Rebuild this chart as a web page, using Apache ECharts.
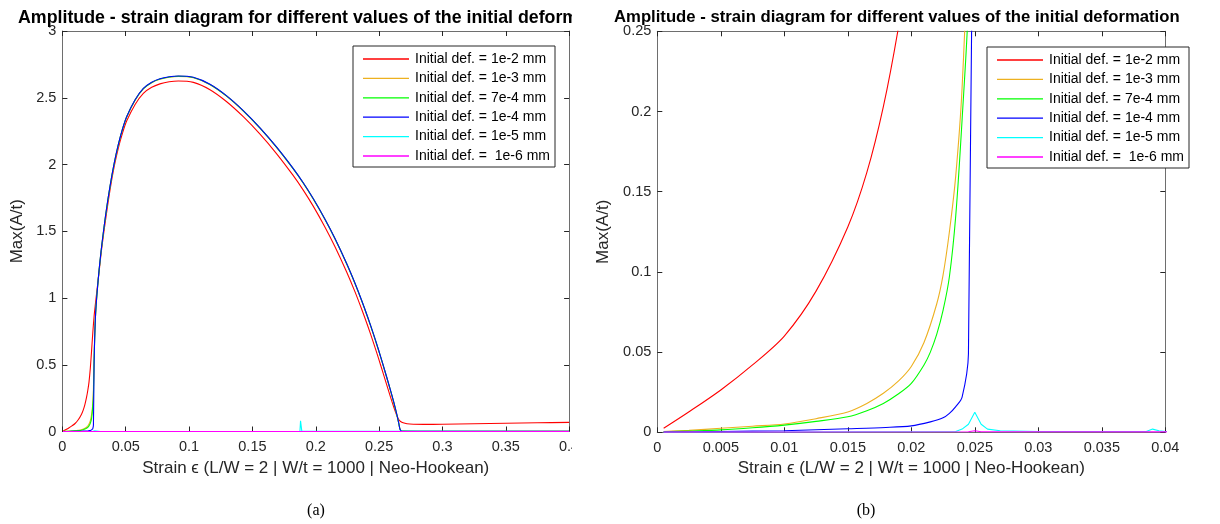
<!DOCTYPE html>
<html><head><meta charset="utf-8">
<script src="https://cdn.jsdelivr.net/npm/echarts/dist/echarts.min.js"></script>
<style>
html,body{margin:0;padding:0;background:#fff;width:1220px;height:524px;overflow:hidden;}
#leftClip{position:absolute;left:0;top:0;width:572px;height:524px;overflow:hidden;}
#left{position:absolute;left:0;top:0;width:620px;height:524px;}
#right{position:absolute;left:590px;top:0;width:630px;height:524px;}
</style></head><body>
<div id="leftClip"><div id="left"></div></div>
<div id="right"></div>
<script>
// ---------------- DATA ----------------
const seriesNames = [
  'Initial def. = 1e-2 mm',
  'Initial def. = 1e-3 mm',
  'Initial def. = 7e-4 mm',
  'Initial def. = 1e-4 mm',
  'Initial def. = 1e-5 mm',
  'Initial def. =  1e-6 mm'
];
const seriesColors = ['#ff0000', '#edb120', '#00ff00', '#0000ff', '#00ffff', '#ff00ff'];

const red_strain = [0.0005,0.0025,0.005,0.0075,0.01,0.0125,0.015,0.0165,0.0178,0.019,0.02,0.021,0.022,0.023,0.024,0.025,0.026,0.0275,0.029,0.031,0.0343,0.0376,0.0409,0.0442,0.0475,0.0508,0.0574,0.0639,0.0705,0.077,0.0843,0.0915,0.1034,0.1165,0.1297,0.143,0.156,0.169,0.182,0.19,0.198,0.207,0.215,0.2244,0.231,0.2365,0.241,0.2454,0.2495,0.253,0.2586,0.2615,0.264,0.2655,0.267,0.269,0.272,0.277,0.285,0.3,0.325,0.35,0.375,0.4];
const red_amp    = [0.0025,0.0128,0.0264,0.042,0.06,0.088,0.128,0.162,0.203,0.253,0.305,0.37,0.47,0.6,0.74,0.86,0.95,1.075,1.2,1.37,1.6,1.81,1.985,2.125,2.237,2.327,2.45,2.533,2.578,2.604,2.62,2.626,2.615,2.56,2.47,2.356,2.227,2.082,1.92,1.81,1.688,1.536,1.388,1.195,1.046,0.91,0.792,0.67,0.55,0.443,0.27,0.185,0.12,0.09,0.075,0.065,0.058,0.054,0.053,0.054,0.058,0.062,0.065,0.068];

const yellow_strain = [0.0005,0.0025,0.005,0.0075,0.01,0.0125,0.015,0.0165,0.0178,0.019,0.02,0.021,0.022,0.0225,0.023,0.0235,0.024,0.0245,0.025,0.0255,0.026,0.0265,0.0275,0.029,0.031,0.0343,0.0376,0.0409,0.0442,0.0475,0.0508,0.0574,0.0639,0.0705,0.077,0.0843,0.0915,0.1034,0.1165,0.1297,0.143,0.156,0.169,0.182,0.19,0.198,0.207,0.215,0.2244,0.231,0.2365,0.241,0.2454,0.2495,0.253,0.2586,0.2615,0.264,0.2655,0.2666,0.268,0.28,0.3,0.35,0.4];
const yellow_amp    = [0.0005,0.0012,0.0025,0.0038,0.0052,0.0085,0.0127,0.018,0.0243,0.032,0.041,0.056,0.08,0.098,0.125,0.16,0.215,0.32,0.55,0.71,0.84,0.927,1.052,1.21,1.386,1.63,1.835,2.007,2.149,2.265,2.357,2.482,2.567,2.613,2.639,2.654,2.66,2.65,2.598,2.511,2.399,2.272,2.129,1.97,1.862,1.742,1.593,1.447,1.256,1.108,0.973,0.855,0.732,0.611,0.502,0.32,0.22,0.125,0.062,0.016,0.004,0.002,0.002,0.002,0.002];

const green_strain = [0.0005,0.0025,0.005,0.0075,0.01,0.0125,0.015,0.0165,0.0178,0.019,0.02,0.021,0.0215,0.022,0.0225,0.023,0.0235,0.024,0.0245,0.025,0.0255,0.026,0.0265,0.0275,0.029,0.031,0.0343,0.0376,0.0409,0.0442,0.0475,0.0508,0.0574,0.0639,0.0705,0.077,0.0843,0.0915,0.1034,0.1165,0.1297,0.143,0.156,0.169,0.182,0.19,0.198,0.207,0.215,0.2244,0.231,0.2365,0.241,0.2454,0.2495,0.253,0.2586,0.2615,0.264,0.2655,0.2666,0.268,0.28,0.3,0.35,0.4];
const green_amp    = [0.0003,0.0008,0.0015,0.0028,0.0045,0.0068,0.0097,0.0135,0.018,0.024,0.0305,0.042,0.05,0.061,0.076,0.097,0.135,0.195,0.27,0.53,0.705,0.84,0.928,1.053,1.211,1.387,1.631,1.836,2.008,2.15,2.266,2.358,2.483,2.568,2.614,2.64,2.655,2.661,2.651,2.599,2.512,2.4,2.273,2.13,1.971,1.863,1.743,1.594,1.448,1.257,1.109,0.974,0.856,0.733,0.612,0.503,0.321,0.221,0.126,0.062,0.015,0.003,0.002,0.002,0.002,0.002];

const blue_strain = [0.0005,0.005,0.01,0.015,0.018,0.02,0.0215,0.0225,0.023,0.0235,0.024,0.0245,0.025,0.0255,0.026,0.0265,0.0275,0.029,0.031,0.0343,0.0376,0.0409,0.0442,0.0475,0.0508,0.0574,0.0639,0.0705,0.077,0.0843,0.0915,0.1034,0.1165,0.1297,0.143,0.156,0.169,0.182,0.19,0.198,0.207,0.215,0.2244,0.231,0.2365,0.241,0.2454,0.2495,0.253,0.2586,0.2615,0.264,0.2655,0.2666,0.268,0.28,0.3,0.35,0.4];
const blue_amp    = [0.0002,0.0005,0.001,0.0022,0.003,0.004,0.0065,0.009,0.0118,0.016,0.022,0.049,0.5,0.7,0.84,0.93,1.055,1.213,1.389,1.633,1.838,2.01,2.152,2.268,2.36,2.485,2.57,2.616,2.642,2.657,2.663,2.653,2.601,2.514,2.402,2.275,2.132,1.973,1.865,1.745,1.596,1.45,1.259,1.111,0.976,0.858,0.735,0.614,0.505,0.323,0.223,0.128,0.064,0.015,0.002,0.001,0.001,0.001,0.001];

const cyan_strain = [0.0005,0.0235,0.024,0.0245,0.025,0.0255,0.026,0.027,0.03,0.0385,0.039,0.0395,0.04,0.1875,0.188,0.1885,0.189,0.19,0.4];
const cyan_amp    = [0,0.0005,0.002,0.005,0.0125,0.005,0.002,0.001,0.0005,0.0005,0.002,0.001,0.0005,0.0005,0.08,0.04,0.003,0.0005,0.0005];

const magenta_strain = [0.0005,0.0245,0.025,0.0255,0.4];
const magenta_amp    = [0.0001,0.0003,0.001,0.0003,0.0002];

const xTicksA = {min: 0, max: 0.4, interval: 0.05};
const yTicksA = {min: 0, max: 3, interval: 0.5};
const xTicksB = {min: 0, max: 0.04, interval: 0.005};
const yTicksB = {min: 0, max: 0.25, interval: 0.05};

const titleText = 'Amplitude - strain diagram for different values of the initial deformation';
const xName = 'Strain \u03f5 (L/W = 2 | W/t = 1000 | Neo-Hookean)';
const yName = 'Max(A/t)';

// ---------------- BUILD ----------------
const strains = [red_strain, yellow_strain, green_strain, blue_strain, cyan_strain, magenta_strain];
const amps = [red_amp, yellow_amp, green_amp, blue_amp, cyan_amp, magenta_amp];
const zip = (a, b) => a.map((v, i) => [v, b[i]]);

const AX = '#6e6e6e', TK = '#262626';
const fmt = v => String(+v.toFixed(4));

function axisX(t, pos, show, name, gap) {
  return {
    type: 'value', position: pos, min: t.min, max: t.max, interval: t.interval,
    axisLine: {show: true, onZero: false, lineStyle: {color: AX, width: 1}},
    axisTick: {show: true, inside: true, length: 5, lineStyle: {color: TK, width: 1}},
    axisLabel: {show: show, color: TK, fontSize: 14.5, fontFamily: 'Liberation Sans', margin: 8, formatter: fmt},
    splitLine: {show: false},
    name: show ? name : '', nameLocation: 'middle', nameGap: gap,
    nameTextStyle: {fontSize: 17, color: TK, fontFamily: 'Liberation Sans'}
  };
}
function axisY(t, pos, show, name, gap) {
  return {
    type: 'value', position: pos, min: t.min, max: t.max, interval: t.interval,
    axisLine: {show: true, onZero: false, lineStyle: {color: AX, width: 1}},
    axisTick: {show: true, inside: true, length: 5, lineStyle: {color: TK, width: 1}},
    axisLabel: {show: show, color: TK, fontSize: 14.5, fontFamily: 'Liberation Sans', margin: 6, formatter: fmt},
    splitLine: {show: false},
    name: show ? name : '', nameLocation: 'middle', nameGap: gap, nameRotate: 90,
    nameTextStyle: {fontSize: 17, color: TK, fontFamily: 'Liberation Sans'}
  };
}

function makeOption(cfg) {
  return {
    animation: false,
    backgroundColor: '#ffffff',
    title: {
      text: titleText, left: cfg.titleLeft, top: 9, padding: 0,
      textStyle: {fontSize: cfg.titleSize, fontWeight: 'bold', color: '#000', fontFamily: 'Liberation Sans'}
    },
    grid: {left: cfg.grid[0], top: cfg.grid[1], width: cfg.grid[2], height: cfg.grid[3], containLabel: false, outerBoundsMode: 'none'},
    legend: {
      left: cfg.legend[0], top: cfg.legend[1], orient: 'vertical',
      selectedMode: false, backgroundColor: '#fff', borderColor: '#262626', borderWidth: 1,
      padding: [6, 5, 4, 10], icon: 'rect', itemWidth: 46, itemHeight: 1.3, itemGap: 5.4,
      textStyle: {fontSize: 14, lineHeight: 14, color: '#000', fontFamily: 'Liberation Sans', padding: [0, 0, 0, 1]},
      data: seriesNames
    },
    xAxis: [axisX(cfg.xt, 'bottom', true, xName, 26), axisX(cfg.xt, 'top', false, '', 0)],
    yAxis: [axisY(cfg.yt, 'left', true, yName, cfg.yGap), axisY(cfg.yt, 'right', false, '', 0)],
    graphic: [{
      type: 'text', x: cfg.cap[0], y: cfg.cap[1],
      style: {text: cfg.cap[2], font: '16px "Liberation Serif"', fill: '#000', align: 'center', verticalAlign: 'middle'}
    }],
    series: seriesNames.map((n, i) => ({
      name: n, type: 'line', xAxisIndex: 0, yAxisIndex: 0,
      data: zip(strains[i], amps[i]), symbol: 'none', showSymbol: false, clip: true,
      smooth: i < 4 ? 0.3 : false,
      color: seriesColors[i],
      lineStyle: {width: 1.1, color: seriesColors[i]}
    }))
  };
}

const chartA = echarts.init(document.getElementById('left'), null, {renderer: 'canvas'});
chartA.setOption(makeOption({
  titleLeft: 18, titleSize: 17.8, grid: [62.4, 31, 506.7, 400.5], legend: [353, 46],
  xt: xTicksA, yt: yTicksA, yGap: 36, cap: [316, 511, '(a)']
}));
const chartB = echarts.init(document.getElementById('right'), null, {renderer: 'canvas'});
chartB.setOption(makeOption({
  titleLeft: 24, titleSize: 16.7, grid: [67.3, 31.3, 508, 401], legend: [397, 47],
  xt: xTicksB, yt: yTicksB, yGap: 38, cap: [276, 511, '(b)']
}));
</script></body></html>
